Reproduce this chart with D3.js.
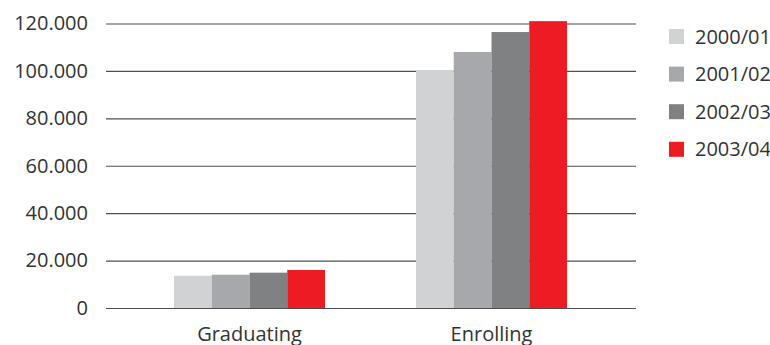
<!DOCTYPE html>
<html>
<head>
<meta charset="utf-8">
<script src="https://cdn.jsdelivr.net/npm/d3@7"></script>
<style>
  html, body { margin: 0; padding: 0; background: #fff; }
  svg { display: block; font-family: "Open Sans", sans-serif; }
</style>
</head>
<body>
<svg id="chart" width="770" height="345"></svg>
<script>
// Student counts per category and academic year
const categories = ["Graduating", "Enrolling"];
const years = ["2000/01", "2001/02", "2002/03", "2003/04"];
const graduating = [13600, 14050, 14900, 16050];
const enrolling = [100300, 108000, 116400, 121000];
const yTicks = [0, 20000, 40000, 60000, 80000, 100000, 120000];
const colors = ["#d1d2d4", "#a7a8ab", "#808183", "#ed1c24"];

const seriesByCategory = { "Graduating": graduating, "Enrolling": enrolling };

const svg = d3.select("#chart");
const textColor = "#333333";

const y = d3.scaleLinear().domain([0, 120000]).range([308, 23.5]);
const x0 = d3.scaleBand().domain(categories).range([128.5, 612.5]).padding(0);
const x1 = d3.scaleBand().domain(years).range([45.5, 196.5]).padding(0);
const color = d3.scaleOrdinal().domain(years).range(colors);

const fmt = d => d3.format(",")(d).replace(/,/g, ".");

// Horizontal gridlines with value labels
const yAxis = d3.axisLeft(y).tickValues(yTicks).tickSize(-530).tickPadding(18).tickFormat(fmt);
const gy = svg.append("g").attr("transform", "translate(106,0)").call(yAxis);
gy.select(".domain").remove();
gy.selectAll(".tick line").attr("stroke", "#4f4f4f").attr("stroke-width", 1.2);
gy.selectAll(".tick text")
  .attr("fill", textColor)
  .attr("font-size", 20)
  .attr("font-family", "'Open Sans', sans-serif");

// Grouped bars
const groups = svg.append("g").selectAll("g")
  .data(categories)
  .join("g")
  .attr("transform", c => `translate(${x0(c)},0)`);

groups.selectAll("rect")
  .data(c => years.map((yr, i) => ({ year: yr, value: seriesByCategory[c][i] })))
  .join("rect")
  .attr("x", d => x1(d.year))
  .attr("width", x1.bandwidth())
  .attr("y", d => y(d.value))
  .attr("height", d => y(0) - y(d.value))
  .attr("fill", d => color(d.year));

// Category labels
const xAxis = d3.axisBottom(x0).tickSize(0).tickPadding(19);
const gx = svg.append("g").attr("transform", "translate(0,308)").call(xAxis);
gx.select(".domain").remove();
gx.selectAll(".tick text")
  .attr("fill", textColor)
  .attr("font-size", 20)
  .attr("font-family", "'Open Sans', sans-serif")
  .attr("dy", "0.71em");

// Legend
const legend = svg.append("g").attr("transform", "translate(669,29)");
const li = legend.selectAll("g")
  .data(years)
  .join("g")
  .attr("transform", (d, i) => `translate(0,${i * 37.6})`);
li.append("rect")
  .attr("width", 15).attr("height", 15)
  .attr("fill", d => color(d));
li.append("text")
  .attr("x", 26).attr("y", 14.5)
  .attr("fill", textColor)
  .attr("font-size", 20)
  .text(d => d);
</script>
</body>
</html>
